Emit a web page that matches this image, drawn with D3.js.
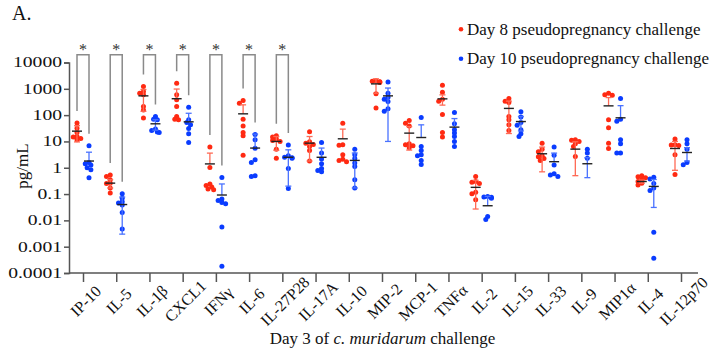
<!DOCTYPE html>
<html>
<head>
<meta charset="utf-8">
<script src="https://cdn.jsdelivr.net/npm/d3@7"></script>
<style>
  html, body { margin: 0; padding: 0; background: #fff; }
  svg { display: block; font-family: "Liberation Serif", "Times New Roman", serif; }
</style>
</head>
<body>
<div id="chart"></div>
<script>
// categories on the x axis
const categories = ["IP-10", "IL-5", "IL-1β", "CXCL1", "IFNγ", "IL-6", "IL-27P28", "IL-17A", "IL-10",
  "MIP-2", "MCP-1", "TNFα", "IL-2", "IL-15", "IL-33", "IL-9", "MIP1α", "IL-4", "IL-12p70"];

// individual values, day 8 group
const day8Points = [
  [49.7, 32, 21.8, 15.4, 14.6, 12.9, 11.5],
  [0.53, 0.47, 0.35, 0.26, 0.25, 0.17, 0.11],
  [1216, 795, 680, 590, 213, 158, 77],
  [1630, 590, 380, 213, 89, 70, 66],
  [6.1, 1.03, 0.24, 0.21, 0.185, 0.156, 0.146],
  [357, 285, 70, 39, 21.9, 16.4, 3.0],
  [16.4, 14.6, 12.3, 10.8, 10.0, 5.1, 2.3],
  [23.2, 9.7, 8.6, 7.7, 6.45, 4.55, 1.8],
  [49.6, 7.5, 7.2, 3.1, 2.1, 1.9, 1.7],
  [2040, 1950, 1850, 1800, 1750, 645, 185],
  [62, 49.6, 39, 8.1, 7.5, 6.8, 5.7],
  [1380, 745, 400, 340, 105, 21.9, 14.6],
  [0.47, 0.30, 0.28, 0.25, 0.116, 0.103, 0.061],
  [426, 340, 300, 89, 66, 43, 26],
  [8.6, 5.0, 4.05, 2.85, 2.6, 2.25, 1.9],
  [11.5, 11.0, 10, 8.1, 6.4, 2.7],
  [680, 600, 570, 66, 33, 8.6, 5.4],
  [0.50, 0.45, 0.42, 0.35, 0.30, 0.26, 0.22],
  [12.3, 7.5, 7.3, 7.0, 3.1, 0.56]
];

// individual values, day 10 group
const day10Points = [
  [6.8, 1.59, 1.42, 1.26, 1.0, 0.84, 0.42],
  [0.103, 0.069, 0.051, 0.046, 0.038, 0.020, 0.0047],
  [89, 70, 66, 29.5, 26, 23, 21.9],
  [200, 66, 52, 43, 31, 19.5, 9.1],
  [0.43, 0.065, 0.057, 0.048, 0.043, 0.0056, 0.00018],
  [18.4, 11.5, 5.5, 2.0, 1.6, 0.50, 0.47],
  [7.3, 2.85, 2.5, 2.4, 2.3, 0.94, 0.164],
  [9.1, 3.6, 2.14, 1.42, 0.94, 0.79, 0.70],
  [5.1, 3.1, 2.25, 1.5, 1.12, 0.35, 0.17],
  [1820, 680, 480, 400, 330, 173, 141],
  [81, 6.4, 4.5, 3.1, 2.85, 1.9, 1.34],
  [126, 46.8, 27.6, 20.7, 15.4, 10, 6.4],
  [0.080, 0.077, 0.075, 0.069, 0.014, 0.0107],
  [133, 84, 52, 41.6, 27.6, 19.5, 15.4],
  [6.1, 3.0, 1.26, 0.59, 0.53, 0.47],
  [5.1, 3.6, 2.3],
  [426, 70, 59, 11.5, 8.1, 3.6, 3.6],
  [0.44, 0.37, 0.25, 0.17, 0.138, 0.0035, 0.00036],
  [11.5, 8.1, 5.1, 1.59, 1.3]
];

// group means and SEM as plotted
const day8Mean = [24.6, 0.26, 540, 420, 1.4, 112, 10, 8.6, 12.6, 1540, 20.7, 415, 0.18, 180, 3.4, 5.1, 225, 0.30, 5.4];
const day8Sem = [15, 0.09, 400, 560, 2.2, 134, 5.4, 6.8, 16.8, 860, 16, 175, 0.153, 160, 2.7, 4.6, 240, 0.04, 4.6];
const day10Mean = [1.8, 0.04, 46.8, 55.6, 0.092, 5.6, 2.5, 2.5, 1.9, 540, 14.1, 35, 0.036, 57, 1.7, 1.42, 79, 0.195, 3.8];
const day10Sem = [2.1, 0.037, 20, 62, 0.15, 13.4, 2.3, 3.1, 1.73, 530, 28.6, 39, 0.046, 32, 1.9, 1.0, 150, 0.164, 2.0];

// cytokines marked significant
const significant = ["IP-10", "IL-5", "IL-1β", "CXCL1", "IFNγ", "IL-6", "IL-27P28"];

const yTicks = [0.0001, 0.001, 0.01, 0.1, 1, 10, 100, 1000, 10000];
const yTickLabels = ["0.0001", "0.001", "0.01", "0.1", "1", "10", "100", "1000", "10000"];

const seriesNames = ["Day 8 pseudopregnancy challenge", "Day 10 pseudopregnancy challenge"];
const seriesColors = ["#ff2a12", "#0a3cff"];
const errColors = ["#ff6a55", "#4a72ff"];

const width = 718, height = 352;
const fontFamily = "'Liberation Serif', 'Times New Roman', serif";
const svg = d3.select("#chart").append("svg")
  .attr("width", width)
  .attr("height", height)
  .attr("font-family", fontFamily);

const x = d3.scalePoint().domain(categories).range([83, 681]);
const y = d3.scaleLog().domain([1e-4, 1e4]).range([273, 62.5]);
const axisColor = "#555";

// y axis
const yAxis = svg.append("g")
  .attr("transform", "translate(69,0)")
  .call(d3.axisLeft(y).tickValues(yTicks).tickSize(5).tickFormat((d, i) => yTickLabels[i]));
yAxis.attr("font-family", fontFamily);
yAxis.select(".domain").attr("stroke", axisColor).attr("stroke-width", 1.5);
yAxis.selectAll(".tick line").attr("stroke", axisColor).attr("stroke-width", 1.5);
yAxis.selectAll(".tick text")
  .attr("font-size", 14)
  .attr("fill", "#111")
  .attr("x", -7 / 1.4)
  .attr("transform", "scale(1.4,1)");

// x axis
const xAxis = svg.append("g")
  .attr("transform", "translate(0,273)")
  .call(d3.axisBottom(x).tickSize(9).tickSizeOuter(0));
xAxis.attr("font-family", fontFamily);
xAxis.select(".domain").remove();
xAxis.append("line")
  .attr("x1", 69).attr("x2", 698)
  .attr("stroke", axisColor).attr("stroke-width", 1.5);
xAxis.selectAll(".tick line").attr("stroke", axisColor).attr("stroke-width", 1.5);
xAxis.selectAll(".tick text")
  .attr("font-size", 16)
  .attr("fill", "#111")
  .attr("text-anchor", "middle")
  .attr("y", null)
  .attr("dy", "0.35em")
  .attr("transform", "translate(2,28) rotate(-45)");

// simple dodge so overlapping dots sit side by side
function dodge(values, cx, r) {
  const placed = [];
  const sorted = values.map(v => ({ v, py: y(v) })).sort((a, b) => a.py - b.py);
  const minDist = r * 1.3;
  sorted.forEach(p => {
    const offsets = [0, -1, 1, -2, 2].map(k => k * r * 0.75);
    let chosen = offsets[offsets.length - 1];
    for (const o of offsets) {
      const ok = placed.every(q => Math.hypot(q.px - (cx + o), q.py - p.py) >= minDist);
      if (ok) { chosen = o; break; }
    }
    p.px = cx + chosen;
    placed.push(p);
  });
  return placed;
}

const plot = svg.append("g");
const groups = [
  { points: day8Points, mean: day8Mean, sem: day8Sem, off: -6, s: 0 },
  { points: day10Points, mean: day10Mean, sem: day10Sem, off: 6, s: 1 }
];

const r = 2.5;
groups.forEach(g => {
  categories.forEach((c, i) => {
    const cx = x(c) + g.off;
    const pts = dodge(g.points[i], cx, r);
    plot.append("g").selectAll("circle")
      .data(pts)
      .join("circle")
      .attr("cx", d => d.px)
      .attr("cy", d => d.py)
      .attr("r", r)
      .attr("fill", seriesColors[g.s]);

    const m = g.mean[i], e = g.sem[i];
    const top = y(m + e);
    const bottom = m - e > 1e-4 ? y(m - e) : y(m);
    const eb = plot.append("g").attr("stroke", errColors[g.s]).attr("stroke-width", 1.3);
    eb.append("line").attr("x1", cx).attr("x2", cx).attr("y1", top).attr("y2", bottom);
    eb.append("line").attr("x1", cx - 3).attr("x2", cx + 3).attr("y1", top).attr("y2", top);
    if (m - e > 1e-4) {
      eb.append("line").attr("x1", cx - 3).attr("x2", cx + 3).attr("y1", bottom).attr("y2", bottom);
    }
    plot.append("line")
      .attr("x1", cx - 5).attr("x2", cx + 5)
      .attr("y1", y(m)).attr("y2", y(m))
      .attr("stroke", "#222").attr("stroke-width", 1.4);
  });
});

// significance brackets
const bracketTop = 54.7;
significant.forEach(c => {
  const i = categories.indexOf(c);
  const x1 = x(c) - 6, x2 = x(c) + 6;
  const y1 = y(d3.max(day8Points[i])) - 12;
  const y2 = y(d3.max(day10Points[i])) - 12;
  svg.append("path")
    .attr("d", `M${x1},${y1}V${bracketTop}H${x2}V${y2}`)
    .attr("fill", "none")
    .attr("stroke", "#8a8a8a")
    .attr("stroke-width", 1.5);
  svg.append("text")
    .attr("x", x(c))
    .attr("y", 55)
    .attr("text-anchor", "middle")
    .attr("font-size", 16)
    .attr("fill", "#333")
    .text("*");
});

// legend
seriesNames.forEach((name, i) => {
  const ly = 29.3 + i * 29.4;
  svg.append("circle").attr("cx", 461).attr("cy", ly).attr("r", 2.3).attr("fill", seriesColors[i]);
  svg.append("text")
    .attr("x", 467).attr("y", ly + 5.5)
    .attr("font-size", 17)
    .attr("fill", "#111")
    .text(name);
});

// titles
svg.append("text")
  .attr("x", 12).attr("y", 20)
  .attr("font-size", 20)
  .attr("fill", "#111")
  .text("A.");

svg.append("text")
  .attr("transform", "translate(28,166) rotate(-90)")
  .attr("text-anchor", "middle")
  .attr("font-size", 17)
  .attr("fill", "#111")
  .text("pg/mL");

const xt = svg.append("text")
  .attr("x", 382.5).attr("y", 344)
  .attr("text-anchor", "middle")
  .attr("font-size", 17)
  .attr("fill", "#111");
xt.append("tspan").text("Day 3 of ");
xt.append("tspan").attr("font-style", "italic").text("c. muridarum");
xt.append("tspan").text(" challenge");
</script>
</body>
</html>
